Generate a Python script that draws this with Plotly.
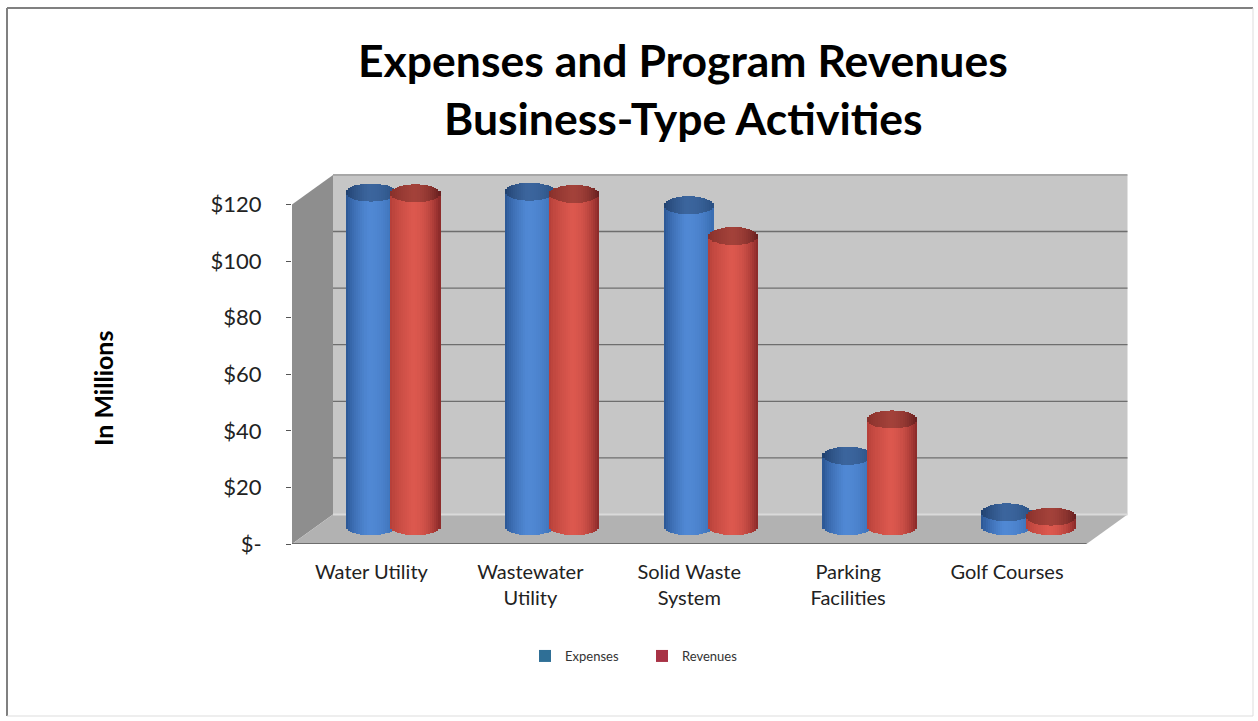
import math
import plotly.graph_objects as go

categories = ["Water Utility", "Wastewater<br>Utility", "Solid Waste<br>System", "Parking<br>Facilities", "Golf Courses"]
expenses = [118.0, 118.3, 113.5, 25.0, 5.0]
revenues = [117.7, 117.5, 102.6, 37.8, 3.5]
y_ticks = [0, 20, 40, 60, 80, 100, 120]
y_labels = ["$-", "$20", "$40", "$60", "$80", "$100", "$120"]

W, H = 1258, 721
L, R, T, B = 292, 128, 170, 177
PX_X = 158.9
PX_Y = 2.83
x_max = (W - L - R) / PX_X
y_max = (H - T - B) / PX_Y
DX = 41 / PX_X          # depth of the 3-D box
DY = 29.5 / PX_Y
LIFT = 6.2              # bars stand mid-way on the floor
HALF_W = 25 / PX_X
HALF_H = 9 / PX_Y
OFFSETS = {"Expenses": -0.004, "Revenues": 0.277}
SWATCH = {"Expenses": "#2F6F96", "Revenues": "#A83245"}
N = 24


def lerp(a, b, t):
    return tuple(a[i] + (b[i] - a[i]) * t for i in range(3))


def col(c, k=1.0):
    return "rgb(%d,%d,%d)" % tuple(max(0, min(255, round(v * k))) for v in c)


PALETTE = {
    "Expenses": ((38, 80, 140), (80, 136, 212), (56, 108, 176)),
    "Revenues": ((176, 60, 54), (220, 88, 78), (136, 40, 40)),
}


def shade(name, t):
    left, mid, right = PALETTE[name]
    if t < 0.45:
        return lerp(left, mid, (t / 0.45) ** 0.6)
    return lerp(mid, right, ((t - 0.45) / 0.55) ** 2)


fig = go.Figure()
for name, vals in (("Expenses", expenses), ("Revenues", revenues)):
    fig.add_trace(go.Bar(x=[None], y=[None], name=name, legendgroup=name,
                         marker=dict(color=SWATCH[name], line_width=0), hoverinfo="skip"))
    for part in ("body", "cap"):
        for j in range(N):
            t = (j + 0.5) / N
            u = 2 * t - 1
            s = math.sqrt(1 - u * u)
            dx = u * HALF_W
            xs = [i + 0.5 + OFFSETS[name] + dx for i in range(len(vals))]
            if part == "body":
                bases = [LIFT - HALF_H * s] * len(vals)
                hs = [v + LIFT - b for v, b in zip(vals, bases)]
                c = col(shade(name, t))
            else:
                bases = [v + LIFT - HALF_H * s for v in vals]
                hs = [2 * HALF_H * s] * len(vals)
                c = col(shade(name, t), 0.74)
            fig.add_trace(go.Bar(
                x=xs, y=hs, base=bases, width=2 * HALF_W / N * 1.08,
                marker=dict(color=c, line_width=0), name=name,
                showlegend=False, legendgroup=name, hoverinfo="skip",
            ))

shapes = []
# back wall, left wall, floor
shapes.append(dict(type="path", layer="below", line_width=0, fillcolor="#C6C6C6",
                   path=f"M{DX},{DY} L{DX},{120 + DY} L{5 + DX},{120 + DY} L{5 + DX},{DY} Z"))
shapes.append(dict(type="path", layer="below", line_width=0, fillcolor="#8E8E8E",
                   path=f"M0,0 L0,120 L{DX},{120 + DY} L{DX},{DY} Z"))
shapes.append(dict(type="path", layer="below", line_width=0, fillcolor="#B2B2B2",
                   path=f"M0,0 L{DX},{DY} L{5 + DX},{DY} L5,0 Z"))
for v in y_ticks[1:]:
    shapes.append(dict(type="line", layer="below", x0=DX, x1=5 + DX, y0=v + DY, y1=v + DY,
                       line=dict(color="#6E6E6E" if v < 120 else "#8A8A8A", width=1.3)))
shapes.append(dict(type="line", layer="below", x0=DX, x1=5 + DX, y0=DY, y1=DY,
                   line=dict(color="#DADADA", width=2)))
shapes.append(dict(type="line", layer="below", x0=0, x1=5, y0=0, y1=0,
                   line=dict(color="#6E6E6E", width=2)))
# outer frame
px = lambda v: (v - L) / (W - L - R)
py = lambda v: 1 - (v - T) / (H - T - B)
for x0, y0, x1, y1, c, w in [(7, 8, 1253, 8, "#808080", 2), (7, 8, 7, 716, "#808080", 2),
                              (1253, 8, 1253, 716, "#DDDDDD", 1), (7, 716, 1253, 716, "#DDDDDD", 1)]:
    shapes.append(dict(type="line", xref="paper", yref="paper", x0=px(x0), x1=px(x1),
                       y0=py(y0), y1=py(y1), line=dict(color=c, width=w)))

FONT = "Lato, 'Open Sans', sans-serif"
title_lines = ["Expenses and Program Revenues", "Business-Type Activities"]
common = dict(xref="paper", yref="paper", showarrow=False, xanchor="center", yanchor="middle")
annotations = [
    dict(text=f"<b>{title_lines[0]}</b>", x=px(683), y=py(60),
         font=dict(family=FONT, size=44.5, color="black"), **common),
    dict(text=f"<b>{title_lines[1]}</b>", x=px(683), y=py(118),
         font=dict(family=FONT, size=44.5, color="black"), **common),
    dict(text="<b>In Millions</b>", x=px(103), y=py(389), textangle=-90,
         font=dict(family=FONT, size=25, color="black"), **common),
]

fig.update_layout(
    width=W, height=H, margin=dict(l=L, r=R, t=T, b=B, autoexpand=False),
    paper_bgcolor="white", plot_bgcolor="white", barmode="overlay", bargap=0,
    hovermode=False, shapes=shapes, annotations=annotations,
    font=dict(family=FONT, color="#222222"),
    xaxis=dict(range=[0, x_max], tickmode="array", tickvals=[i + 0.5 for i in range(5)],
               ticktext=categories, ticks="", showgrid=False, zeroline=False, showline=False,
               tickfont=dict(size=20), ticklabelstandoff=14),
    yaxis=dict(range=[0, y_max], tickmode="array", tickvals=y_ticks, ticktext=y_labels,
               ticks="outside", ticklen=5, tickcolor="#555555", showgrid=False, zeroline=False,
               showline=False, tickfont=dict(size=22), ticklabelstandoff=20),
    legend=dict(orientation="h", x=px(525), y=py(656), xanchor="left", yanchor="middle",
                entrywidth=72, entrywidthmode="pixels", font=dict(size=13, color="#333333"),
                bgcolor="rgba(0,0,0,0)"),
)

fig.write_html("out.html", config={"displayModeBar": False},
               post_script="document.body.style.margin='0';document.body.style.overflow='hidden';")
